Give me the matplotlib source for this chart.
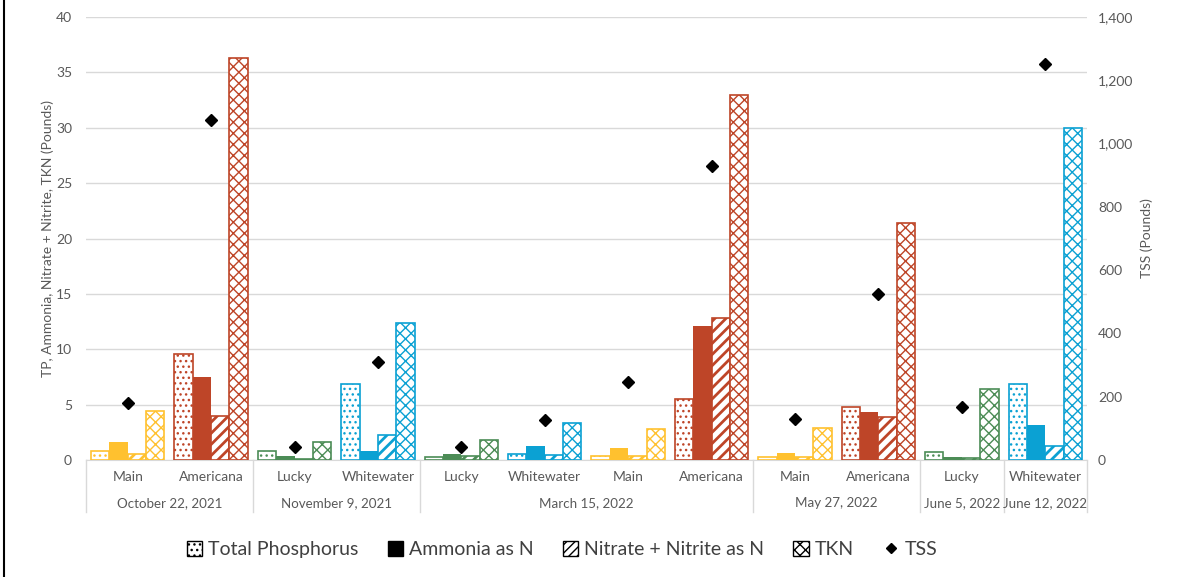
import numpy as np
import matplotlib.pyplot as plt
from matplotlib.patches import Patch
from matplotlib.lines import Line2D
from matplotlib.ticker import FuncFormatter
import matplotlib.transforms as mtransforms

plt.rcParams['font.family'] = ['Lato', 'DejaVu Sans']

# data
dates = ['October 22, 2021', 'November 9, 2021', 'March 15, 2022',
         'May 27, 2022', 'June 5, 2022', 'June 12, 2022']
date_counts = [2, 2, 4, 2, 1, 1]
sites = ['Main', 'Americana', 'Lucky', 'Whitewater', 'Lucky', 'Whitewater',
         'Main', 'Americana', 'Main', 'Americana', 'Lucky', 'Whitewater']
tp = [0.84, 9.6, 0.84, 6.86, 0.27, 0.57, 0.39, 5.5, 0.27, 4.8, 0.69, 6.86]
ammonia = [1.65, 7.5, 0.39, 0.84, 0.57, 1.23, 1.05, 12.06, 0.6, 4.36, 0.3, 3.13]
nitrate = [0.57, 4.0, 0.1, 2.28, 0.33, 0.48, 0.33, 12.8, 0.27, 3.9, 0.18, 1.23]
tkn = [4.4, 36.3, 1.65, 12.4, 1.83, 3.37, 2.83, 33.0, 2.9, 21.4, 6.4, 30.0]
tss = [179, 1076, 40, 310, 41, 125, 245, 930, 130, 525, 166, 1252]

site_colors = {'Main': '#FFC12F', 'Americana': '#BE4528',
               'Lucky': '#4C8C56', 'Whitewater': '#0BA1D3'}
colors = [site_colors[s] for s in sites]

grey = '#595959'
fig = plt.figure(figsize=(11.83, 5.77), dpi=100)
ax = fig.add_axes([0.0727, 0.2028, 0.8461, 0.7677])
ax2 = ax.twinx()

x = np.arange(len(sites))
w = 0.22
ax.bar(x - 1.5 * w, tp, w, facecolor='white', edgecolor=colors, hatch='...', linewidth=1.2, zorder=3)
ax.bar(x - 0.5 * w, ammonia, w, color=colors, zorder=3)
with plt.rc_context({'hatch.linewidth': 2.0}):
    ax.bar(x + 0.5 * w, nitrate, w, facecolor='white', edgecolor=colors, hatch='///', linewidth=1.2, zorder=3)
ax.bar(x + 1.5 * w, tkn, w, facecolor='white', edgecolor=colors, hatch='xxx', linewidth=1.2, zorder=3)
ax2.plot(x, tss, 'D', color='black', markersize=6, linestyle='none', zorder=4)

ax.set_xlim(-0.5, len(sites) - 0.5)
ax.set_ylim(0, 40)
ax.set_yticks(range(0, 41, 5))
ax2.set_ylim(0, 1400)
ax2.set_yticks(range(0, 1401, 200))
ax2.yaxis.set_major_formatter(FuncFormatter(lambda v, p: f'{int(v):,}'))

ax.grid(axis='y', color='#D9D9D9', linewidth=1, zorder=0)
ax.set_axisbelow(True)
for a in (ax, ax2):
    for sp in a.spines.values():
        sp.set_visible(False)
    a.tick_params(length=0, labelsize=10, labelcolor=grey)
ax.spines['bottom'].set_visible(True)
ax.spines['bottom'].set_color('#D9D9D9')
ax.set_xticks([])
ax.tick_params(axis='y', pad=10)
ax2.tick_params(axis='y', pad=8)

ax.set_ylabel('TP, Ammonia, Nitrate + Nitrite, TKN (Pounds)', fontsize=10, color=grey, labelpad=1)
ax2.set_ylabel('TSS (Pounds)', fontsize=10, color=grey, labelpad=5)

# two-level category axis
trans = mtransforms.blended_transform_factory(ax.transData, ax.transAxes)
for i, s in enumerate(sites):
    ax.text(i, -0.038, s, transform=trans, ha='center', va='center', fontsize=10, color=grey)
edges = np.concatenate([[0], np.cumsum(date_counts)]) - 0.5
for d, a, b in zip(dates, edges[:-1], edges[1:]):
    ax.text((a + b) / 2, -0.097, d, transform=trans, ha='center', va='center', fontsize=9.6, color=grey)
for e in edges:
    ax.plot([e, e], [0, -0.117], transform=trans, color='#D9D9D9', linewidth=1, clip_on=False)

handles = [Patch(facecolor='white', edgecolor='black', hatch='...', label='Total Phosphorus'),
           Patch(facecolor='black', edgecolor='black', label='Ammonia as N'),
           Patch(facecolor='white', edgecolor='black', hatch='////', label='Nitrate + Nitrite as N'),
           Patch(facecolor='white', edgecolor='black', hatch='xxx', label='TKN'),
           Line2D([], [], marker='D', color='black', linestyle='none', markersize=5, label='TSS')]
fig.legend(handles=handles, loc='center', bbox_to_anchor=(0.475, 0.047), ncol=5, frameon=False,
           fontsize=14, handlelength=0.8, handleheight=0.8, handletextpad=0.3,
           columnspacing=1.5, labelcolor='#404040')

fig.add_artist(Line2D([0.0035, 0.0035], [0, 1], color='black', linewidth=1.5, transform=fig.transFigure))

fig.savefig('out.png', dpi=100)
